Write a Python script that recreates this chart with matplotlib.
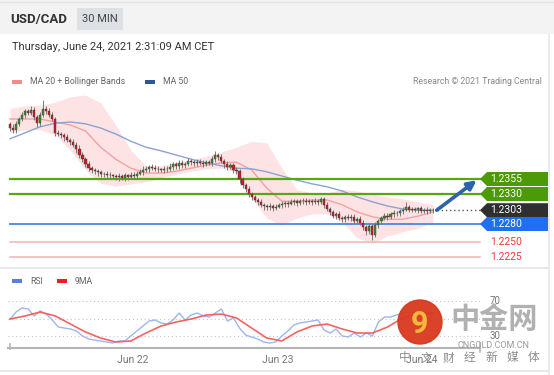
import numpy as np
import matplotlib.pyplot as plt
from matplotlib.patches import Polygon, Rectangle, Circle
from matplotlib.transforms import blended_transform_factory

plt.rcParams['font.family'] = ['Roboto', 'DejaVu Sans']

# ---- data (30 min candles, Jun 21 -> Jun 24 02:00) ----
first_open = 1.2446
close = [
    1.2440, 1.2436, 1.2447,
    1.2455, 1.2462, 1.2468, 1.2465, 1.2470,
    1.2458, 1.2448,
    1.2462, 1.2472,
    1.2468, 1.2462,
    1.2455, 1.2432,
    1.2430, 1.2428, 1.2425, 1.2420, 1.2416, 1.2412,
    1.2405, 1.2395, 1.2388, 1.2380, 1.2373,
    1.2370, 1.2368, 1.2366, 1.2364, 1.2363, 1.2362,
    1.2361, 1.2360, 1.2358, 1.2360, 1.2357, 1.2361, 1.2359, 1.2362, 1.2360, 1.2364, 1.2366,
    1.2370, 1.2372, 1.2375, 1.2374, 1.2372, 1.2371, 1.2370, 1.2372, 1.2371,
    1.2375, 1.2380, 1.2376, 1.2382, 1.2378, 1.2380,
    1.2385, 1.2383, 1.2381, 1.2384, 1.2382, 1.2380, 1.2383, 1.2381,
    1.2388, 1.2395, 1.2392, 1.2385,
    1.2380, 1.2375, 1.2378, 1.2370, 1.2368,
    1.2355, 1.2345, 1.2338, 1.2330,
    1.2325, 1.2320, 1.2316, 1.2312,
    1.2310, 1.2308, 1.2310, 1.2307, 1.2309, 1.2311,
    1.2313, 1.2315, 1.2314, 1.2316, 1.2318, 1.2315,
    1.2318, 1.2319, 1.2317, 1.2318, 1.2316, 1.2318, 1.2317, 1.2321,
    1.2312, 1.2305, 1.2300, 1.2294, 1.2296,
    1.2290, 1.2288, 1.2292, 1.2290,
    1.2292, 1.2285, 1.2288, 1.2282,
    1.2275, 1.2268, 1.2276, 1.2262,
    1.2278, 1.2285,
    1.2290, 1.2294, 1.2291, 1.2296, 1.2299,
    1.2298, 1.2301, 1.2304, 1.2308,
    1.2304, 1.2305, 1.2303, 1.2306, 1.2302, 1.2304, 1.2301, 1.2303, 1.2303,
]
# wick length above / below the body, in pips
wick_hi = [4, 6, 5, 4, 5, 3, 4, 6, 5, 4,
           5, 14, 4, 5, 4, 3, 5, 4, 4, 5,
           4, 5, 4, 6, 5, 4, 5, 4, 3, 4,
           4, 3, 5, 4, 3, 4, 5, 3, 4, 3,
           4, 5, 4, 5, 6, 4, 3, 5, 4, 4,
           3, 4, 5, 6, 4, 3, 5, 4, 4, 5,
           4, 3, 5, 4, 4, 3, 4, 5, 6, 4,
           5, 4, 5, 4, 3, 5, 4, 3, 4, 5,
           4, 3, 4, 5, 3, 4, 5, 3, 4, 4,
           5, 4, 3, 5, 4, 4, 3, 5, 4, 3,
           4, 5, 3, 4, 4, 5, 4, 3, 4, 5,
           4, 3, 5, 4, 4, 3, 5, 4, 3, 4,
           4, 5, 4, 3, 5, 4, 4, 5, 3, 4,
           5, 8, 4, 3, 4, 3, 4, 3, 4, 3, 3]
wick_lo = [5, 4, 4, 3, 4, 5, 3, 4, 5, 6,
           4, 4, 5, 3, 4, 5, 4, 5, 6, 4,
           5, 4, 6, 5, 4, 5, 4, 5, 4, 6,
           5, 4, 5, 6, 4, 5, 7, 4, 5, 6,
           4, 5, 4, 3, 5, 4, 5, 4, 4, 5,
           4, 5, 4, 3, 5, 4, 4, 5, 4, 3,
           4, 5, 4, 4, 5, 4, 3, 4, 4, 5,
           4, 6, 5, 4, 5, 4, 6, 5, 4, 5,
           5, 4, 5, 4, 6, 5, 4, 5, 4, 3,
           4, 4, 5, 3, 4, 5, 4, 4, 5, 4,
           4, 3, 5, 4, 5, 4, 5, 4, 5, 4,
           5, 4, 4, 5, 4, 5, 4, 5, 6, 4,
           9, 4, 5, 4, 4, 5, 3, 4, 4, 5,
           4, 3, 4, 4, 3, 4, 4, 3, 4, 3, 4]

# indicators sampled every 5 candles
ma_step = 5
ma20 = [1.2455, 1.2455, 1.2455, 1.2450, 1.2445, 1.2435, 1.2408, 1.2388, 1.2373, 1.2365,
        1.2365, 1.2368, 1.2373, 1.2378, 1.2382, 1.2383, 1.2370, 1.2340, 1.2318, 1.2318,
        1.2320, 1.2320, 1.2312, 1.2300, 1.2292, 1.2288, 1.2288, 1.2293, 1.2300]
bb_upper = [1.2473, 1.2477, 1.2478, 1.2483, 1.2492, 1.2495, 1.2482, 1.2445, 1.2403, 1.2377,
            1.2377, 1.2382, 1.2387, 1.2393, 1.2400, 1.2408, 1.2418, 1.2415, 1.2373, 1.2337,
            1.2332, 1.2332, 1.2338, 1.2335, 1.2330, 1.2325, 1.2322, 1.2317, 1.2312]
bb_lower = [1.2432, 1.2437, 1.2437, 1.2428, 1.2403, 1.2370, 1.2348, 1.2343, 1.2347, 1.2350,
            1.2357, 1.2363, 1.2368, 1.2372, 1.2373, 1.2367, 1.2323, 1.2290, 1.2278, 1.2290,
            1.2297, 1.2297, 1.2283, 1.2257, 1.2248, 1.2260, 1.2267, 1.2273, 1.2283]
ma50 = [1.2422, 1.2432, 1.2442, 1.2448, 1.2450, 1.2447, 1.2440, 1.2430, 1.2418, 1.2408,
        1.2402, 1.2395, 1.2388, 1.2382, 1.2377, 1.2373, 1.2372, 1.2367, 1.2360, 1.2353,
        1.2347, 1.2342, 1.2335, 1.2325, 1.2317, 1.2310, 1.2305, 1.2303, 1.2303]

# RSI sampled every 2 candles, its 9MA every 5 candles
rsi_step = 2
rsi = [49, 57.4, 62, 60.9, 52.9, 58.6, 55, 48.3, 40.3, 39.1,
       38, 35.7, 30, 26.6, 25.4, 24.3, 23.1, 22, 24.3, 24.3,
       30, 35.7, 41.4, 47.1, 48.3, 44.9, 43.7, 48.3, 56.3, 48.3,
       54, 56.3, 52.9, 51.7, 56.3, 60.9, 47.1, 50.6, 39.1, 31.1,
       28.9, 26.6, 23.1, 22, 23.1, 30, 35.7, 42.6, 44.9, 46,
       47.1, 48.3, 36.9, 33.4, 38, 30, 28.9, 33.4, 28.9, 33.4,
       30, 46, 51.7, 51.7, 54, 56.3, 57.4, 56.3, 58.6, 56.3, 55]
rsi_ma9 = [49.4, 52.9, 57.4, 52.9, 43.7, 34.6, 27.7, 23.1, 24.3, 33.4,
           41.4, 46, 49.4, 54, 55.1, 50.6, 39.1, 27.7, 24.3, 34.6,
           41.4, 43.7, 38, 33.4, 33.4, 40.3, 50.6, 55.1, 56.3]

day_ticks = [40.5, 88.5, 136.5]
day_labels = ['Jun 22', 'Jun 23', 'Jun 24']

resistances = [1.2355, 1.2330]
last_price = 1.2303
pivot = 1.2280
supports = [1.2250, 1.2225]
target = 1.2353

# ---- layout (pixels) ----
W, H = 554, 375
PX = 3.02          # px per candle
X0 = 10            # px of first candle
fig = plt.figure(figsize=(W / 100, H / 100), dpi=100)


def frac(left, top, right, bottom):
    return [left / W, 1 - bottom / H, (right - left) / W, (bottom - top) / H]


bg = fig.add_axes([0, 0, 1, 1], zorder=0)
bg.set_xlim(0, W)
bg.set_ylim(H, 0)
bg.axis('off')

# header
bg.add_patch(Rectangle((0, 0), W, 34, color='#f3f3f3', lw=0))
bg.plot([0, W], [1.5, 1.5], color='#e4e4e4', lw=1)
bg.text(10, 19, 'USD/CAD', fontsize=9.5, fontweight='bold', color='#333333', va='center')
bg.add_patch(Rectangle((77, 8), 46, 22, color='#dde0e4', lw=0))
bg.text(100, 19, '30 MIN', fontsize=8, color='#444444', va='center', ha='center')
bg.text(12, 47, 'Thursday, June 24, 2021 2:31:09 AM CET', fontsize=8, color='#333333', va='center')

# legends
bg.add_patch(Rectangle((12, 80), 10, 4, color='#f28b8b', lw=0))
bg.text(30, 82, 'MA 20 + Bollinger Bands', fontsize=6.3, color='#666666', va='center')
bg.add_patch(Rectangle((145, 80), 10, 4, color='#2f5597', lw=0))
bg.text(163, 82, 'MA 50', fontsize=6.3, color='#666666', va='center')
bg.text(542, 82, 'Research \u00a9 2021 Trading Central', fontsize=6.3, color='#888888',
        va='center', ha='right')
bg.add_patch(Rectangle((12, 279), 10, 4, color='#5b7fde', lw=0))
bg.text(30, 281, 'RSI', fontsize=6.3, color='#666666', va='center')
bg.add_patch(Rectangle((57, 279), 10, 4, color='#ee1c25', lw=0))
bg.text(75, 281, '9MA', fontsize=6.3, color='#666666', va='center')

# panel borders
bg.plot([0, 549], [268, 268], color='#e8e8e8', lw=1.5)
bg.plot([0, 549], [371, 371], color='#e8e8e8', lw=1.5)
bg.plot([549, 549], [34, 375], color='#e8e8e8', lw=1.2)

# ---- price panel ----
ax = fig.add_axes(frac(8, 92, 480, 265), zorder=2)
ax.patch.set_alpha(0)
ax.set_xlim((8 - X0) / PX, (480 - X0) / PX)
ax.set_ylim(1.22117, 1.2500)
ax.axis('off')

idx = np.arange(len(close))
c = np.array(close)
o = np.concatenate([[first_open], c[:-1]])
hi = np.maximum(o, c) + np.array(wick_hi) / 10000
lo = np.minimum(o, c) - np.array(wick_lo) / 10000

mx = np.arange(len(ma20)) * ma_step
ax.fill_between(mx, bb_lower, bb_upper, color='#fde3e3', lw=0, zorder=1)
ax.plot(mx, ma20, color='#f6a0a0', lw=1, zorder=2)
ax.plot(mx, ma50, color='#8aa3d4', lw=1, zorder=2)

# levels
xe = (480 - X0) / PX
for lv in resistances:
    ax.plot([0, xe], [lv, lv], color='#58a616', lw=1.6, zorder=3, clip_on=False)
ax.plot([0, xe], [pivot, pivot], color='#4a86e8', lw=1.3, zorder=3, clip_on=False)
for lv in supports:
    ax.plot([0, xe], [lv, lv], color='#f7b1b1', lw=1.1, zorder=3, clip_on=False)
ax.plot([idx[-1] + 1.5, xe], [last_price, last_price], color='#555555', lw=1,
        ls=(0, (1, 2)), zorder=3, clip_on=False)

# candles
up = c >= o
ax.vlines(idx, lo, hi, color='#7a7a7a', lw=0.7, zorder=4)
body = np.where(np.abs(c - o) < 0.00006, 0.00008, c - o)
ax.bar(idx, body, bottom=o, width=0.7,
       color=np.where(up, '#3e8e2a', '#cc1f24'), edgecolor='#3a3a3a', lw=0.3, zorder=5)

ax.annotate('', xy=(idx[-1] + 14.5, target), xytext=(idx[-1] + 1.3, last_price),
            arrowprops=dict(arrowstyle='-|>', lw=2.6, color='#2f62ad', mutation_scale=13,
                            shrinkA=0, shrinkB=0), zorder=6, annotation_clip=False)

# price tags
tr = blended_transform_factory(ax.transAxes, ax.transData)
ax_w = 472


def tag(price, text, color):
    a = (480 - 8) / ax_w
    b = (487 - 8) / ax_w
    e = (548 - 8) / ax_w
    h = 7 / 6000
    ax.add_patch(Polygon([(a, price), (b, price + h), (e, price + h), (e, price - h),
                          (b, price - h)], closed=True, color=color, lw=0,
                         transform=tr, clip_on=False, zorder=6))
    ax.text((490 - 8) / ax_w, price, text, transform=tr, color='white', fontsize=7.5,
            va='center', ha='left', zorder=7, clip_on=False)


tag(resistances[0], f'{resistances[0]:.4f}', '#4c9a07')
tag(resistances[1], f'{resistances[1]:.4f}', '#4c9a07')
tag(last_price, f'{last_price:.4f}', '#2f2f2f')
tag(pivot, f'{pivot:.4f}', '#1f6ff0')
for lv in supports:
    ax.text((490 - 8) / ax_w, lv, f'{lv:.4f}', transform=tr, color='#f03a3a', fontsize=7.5,
            va='center', ha='left', clip_on=False)

# ---- RSI panel ----
rx = fig.add_axes(frac(8, 290, 480, 348), zorder=2)
rx.patch.set_alpha(0)
rx.set_xlim((8 - X0) / PX, (480 - X0) / PX)
rx.set_ylim(16.29, 82.57)
for s in ['top', 'left', 'right']:
    rx.spines[s].set_visible(False)
rx.spines['bottom'].set_color('#b5b5b5')
rx.spines['bottom'].set_linewidth(1.5)
rx.set_yticks([])
rtr = blended_transform_factory(rx.transAxes, rx.transData)
for lv in [70, 50, 30]:
    rx.axhline(lv, color='#c4c4c4', lw=0.8, ls=(0, (1, 2.5)))
rx.text((490 - 8) / ax_w, 70, '70', transform=rtr, fontsize=7, color='#777777', va='center')
rx.text((490 - 8) / ax_w, 30, '30', transform=rtr, fontsize=7, color='#777777', va='center')
rx.plot(np.arange(len(rsi)) * rsi_step, rsi, color='#9fb5f0', lw=1)
rx.plot(np.arange(len(rsi_ma9)) * ma_step, rsi_ma9, color='#f26464', lw=1.2)
rx.set_xticks(day_ticks)
rx.set_xticklabels(day_labels)
rx.tick_params(axis='x', length=0, pad=5, labelsize=7.5, labelcolor='#777777')
bg.plot([9.5, 9.5], [344, 349], color='#b5b5b5', lw=1.2)
bg.plot([480, 480], [343, 352], color='#b5b5b5', lw=1.2)

# ---- watermark ----
wm = fig.add_axes([0, 0, 1, 1], zorder=10)
wm.set_xlim(0, W)
wm.set_ylim(H, 0)
wm.axis('off')
wm.add_patch(Circle((420, 322), 22, color='#d8391d', alpha=0.95))
wm.text(420, 324, '9', fontsize=22, fontweight='bold', color='#f4b83a', ha='center', va='center')
wm.text(494, 319, '中金网', fontsize=21, color='#a9a9a9', ha='center', va='center',
        family=['Noto Sans CJK SC', 'DejaVu Sans'], fontweight='bold', alpha=0.9)
wm.text(493, 345, 'CNGOLD.COM.CN', fontsize=6.5, color='#9a9a9a', ha='center', va='center')
for k, ch in enumerate('中文财经新媒体'):
    wm.text(405 + 21.5 * k, 358, ch, fontsize=8.5, color='#8c8c8c', ha='center', va='center',
            family=['Noto Sans CJK SC', 'DejaVu Sans'])

fig.savefig('out.png', dpi=100)
